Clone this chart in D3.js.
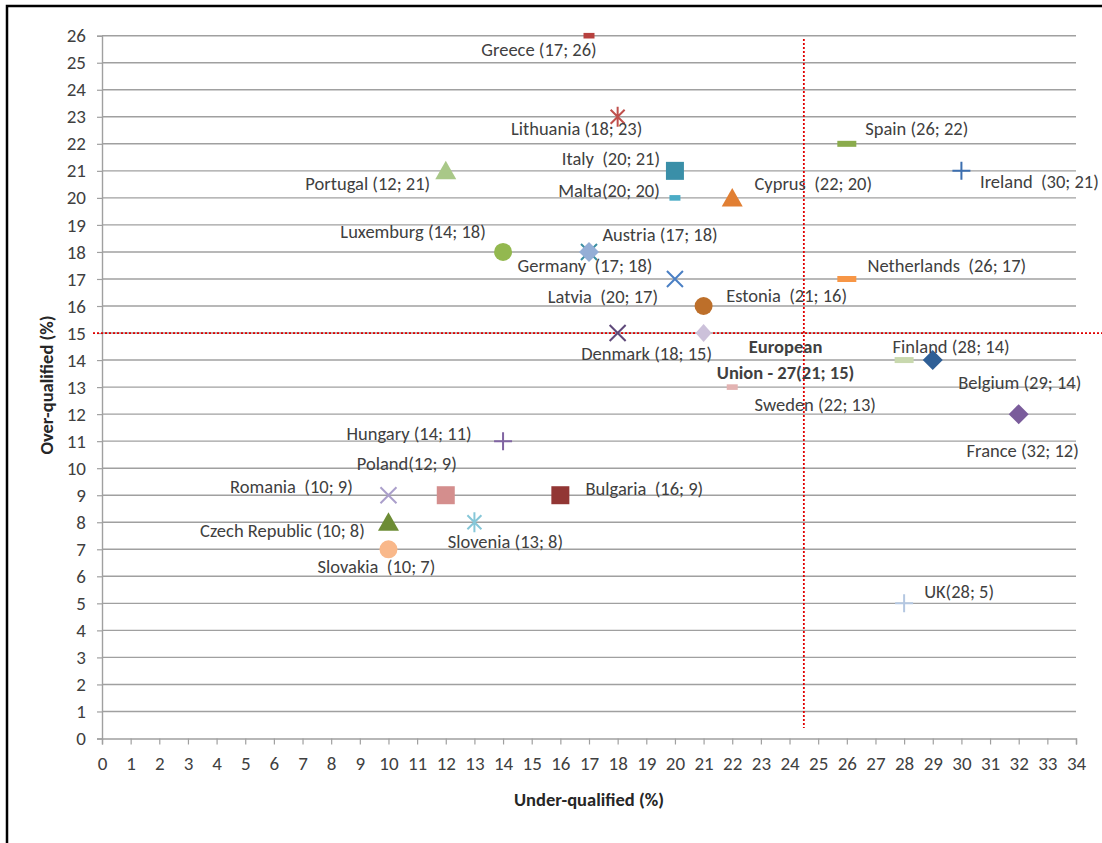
<!DOCTYPE html>
<html>
<head>
<meta charset="utf-8">
<script src="https://cdn.jsdelivr.net/npm/d3@7"></script>
<style>
  body { margin: 0; background: #fff; }
  svg text { font-family: Carlito, "Liberation Sans Narrow", "Liberation Sans", sans-serif; fill: #404040; white-space: pre; }
  .axis-title { font-weight: bold; fill: #262626; }
</style>
</head>
<body>
<svg id="chart" width="1102" height="843"></svg>
<script>
/*
     GLOBAL LAYOUT CONSTANTS
*/
var width = 1102;
var height = 843;
var plot = {left: 102, right: 1076, top: 35.7, bottom: 738.5};
var fontSize = "18.5px";

/*
     DATA (under-qualified %, over-qualified %)
*/
var countries = ["Greece", "Lithuania", "Italy", "Malta", "Portugal", "Cyprus", "Spain", "Ireland",
  "Luxemburg", "Germany", "Austria", "Latvia", "Netherlands", "Estonia", "EU27", "Denmark",
  "Finland", "Belgium", "Sweden", "France", "Hungary", "Poland", "Romania", "Bulgaria",
  "Czech Republic", "Slovenia", "Slovakia", "UK"];
var underQualified = [17, 18, 20, 20, 12, 22, 26, 30, 14, 17, 17, 20, 26, 21, 21, 18, 28, 29, 22, 32, 14, 12, 10, 16, 10, 13, 10, 28];
var overQualified  = [26, 23, 21, 20, 21, 20, 22, 21, 18, 18, 18, 17, 17, 16, 15, 15, 14, 14, 13, 12, 11, 9, 9, 9, 8, 8, 7, 5];
var labels = ["Greece (17; 26)", "Lithuania (18; 23)", "Italy  (20; 21)", "Malta(20; 20)", "Portugal (12; 21)",
  "Cyprus  (22; 20)", "Spain (26; 22)", "Ireland  (30; 21)", "Luxemburg (14; 18)", "Germany  (17; 18)",
  "Austria (17; 18)", "Latvia  (20; 17)", "Netherlands  (26; 17)", "Estonia  (21; 16)",
  "European|Union - 27(21; 15)", "Denmark (18; 15)", "Finland (28; 14)", "Belgium (29; 14)",
  "Sweden (22; 13)", "France (32; 12)", "Hungary (14; 11)", "Poland(12; 9)", "Romania  (10; 9)",
  "Bulgaria  (16; 9)", "Czech Republic (10; 8)", "Slovenia (13; 8)", "Slovakia  (10; 7)", "UK(28; 5)"];

var xTicks = d3.range(0, 35);
var yTicks = d3.range(0, 27);
var euAverage = [24.5, 15]; // reference lines

/*
     STYLE / LAYOUT PER POINT (kept apart from the data)
*/
var shapes = ["barS", "star", "square", "barS", "triangle", "triangle", "bar", "plus",
  "circle", "x", "diamond", "x", "bar", "circle", "diamondS", "x",
  "bar", "diamond", "barS", "diamond", "plus", "square", "x", "square",
  "triangle", "star", "circle", "plus"];
var colors = ["#b7413e", "#c0504d", "#3a8fa8", "#4bacc6", "#a9c888", "#e17f33", "#8aab4c", "#3c6fb0",
  "#93b84f", "#3b8fa3", "#94aed6", "#4a7fc4", "#f79646", "#bd6f2a", "#ccc1da", "#5f497a",
  "#c8d8ae", "#2f5f96", "#e3b3b2", "#7a5c9b", "#8064a2", "#d48e8d", "#ab9fcb", "#923634",
  "#6d8c35", "#86c7d8", "#f9b88a", "#b4c7e1"];
// label centre offsets from marker, pixels
var labelDx = [-50, -41, -64, -66, -78, 81, 70, 78, -90, -4, 71, -72, 100, 83, 82, 29, 47, 87, 83, 4, -94, -39, -97, 84, -106, 31, -12, 55];
var labelDy = [13, 11, -13, -8, 12, -15, -16, 10, -21, 13, -18, 17, -14, -11, 13, 20, -14, 22, 17, 36, -8, -32, -9, -7, 8, 19, 17, -12];

/*
     SCALES
*/
var xScale = d3.scaleLinear().domain([0, 34]).range([plot.left, plot.right]);
var yScale = d3.scaleLinear().domain([0, 26]).range([plot.bottom, plot.top]);

var svg = d3.select("#chart");

// frame (cropped: only left and top edges visible)
svg.append("path")
  .attr("d", "M7,843 V6 H1102")
  .attr("fill", "none")
  .attr("stroke", "#000")
  .attr("stroke-width", 2.5);

// gridlines
svg.append("g").selectAll("line")
  .data(yTicks.filter(function(t) { return t > 0; }))
  .enter().append("line")
  .attr("x1", plot.left).attr("x2", plot.right)
  .attr("y1", function(d) { return yScale(d); })
  .attr("y2", function(d) { return yScale(d); })
  .attr("stroke", "#a0a0a0")
  .attr("stroke-width", 1.4);

// axes
var xAxis = svg.append("g")
  .attr("transform", "translate(0," + plot.bottom + ")")
  .call(d3.axisBottom(xScale).tickValues(xTicks).tickSize(6).tickPadding(12).tickFormat(d3.format("d")));
var yAxis = svg.append("g")
  .attr("transform", "translate(" + plot.left + ",0)")
  .call(d3.axisLeft(yScale).tickValues(yTicks).tickSize(5).tickPadding(11).tickFormat(d3.format("d")));

[xAxis, yAxis].forEach(function(ax) {
  ax.select(".domain").attr("stroke", "#a0a0a0").attr("stroke-width", 1.4);
  ax.selectAll(".tick line").attr("stroke", "#a0a0a0").attr("stroke-width", 1.2);
  ax.selectAll(".tick text").style("font-size", "19px").attr("fill", "#404040");
});

// axis titles
svg.append("text")
  .attr("class", "axis-title")
  .attr("x", 589).attr("y", 806)
  .attr("text-anchor", "middle")
  .style("font-size", "18.5px")
  .text("Under-qualified (%)");
svg.append("text")
  .attr("class", "axis-title")
  .attr("transform", "translate(53,385) rotate(-90)")
  .attr("text-anchor", "middle")
  .style("font-size", "18.5px")
  .text("Over-qualified (%)");

// EU-27 reference lines (dotted red)
svg.append("line")
  .attr("x1", xScale(euAverage[0])).attr("x2", xScale(euAverage[0]))
  .attr("y1", yScale(25.88)).attr("y2", yScale(0.39))
  .attr("stroke", "#e00000").attr("stroke-width", 1.8).attr("stroke-dasharray", "2,2");
svg.append("line")
  .attr("x1", 93).attr("x2", width)
  .attr("y1", yScale(euAverage[1])).attr("y2", yScale(euAverage[1]))
  .attr("stroke", "#e00000").attr("stroke-width", 1.8).attr("stroke-dasharray", "2,2");

/*
     MARKERS
*/
function markerPath(type) {
  switch (type) {
    case "square":   return "M-9,-9H9V9H-9Z";
    case "triangle": return "M0,-10L10.5,8.5H-10.5Z";
    case "diamond":  return "M0,-10L10,0L0,10L-10,0Z";
    case "diamondS": return "M0,-9L8,0L0,9L-8,0Z";
    case "circle":   return d3.symbol().type(d3.symbolCircle).size(Math.PI * 81)();
    case "bar":      return "M-9.5,-3H9.5V3H-9.5Z";
    case "barS":     return "M-5.5,-2.8H5.5V2.8H-5.5Z";
    case "plus":     return "M-9,0H9M0,-9V9";
    case "x":        return "M-8,-8L8,8M-8,8L8,-8";
    case "star":     return "M-7,-7L7,7M-7,7L7,-7M0,-10V10";
  }
}
var stroked = {plus: 1, x: 1, star: 1};

var points = countries.map(function(c, i) {
  return {name: c, x: underQualified[i], y: overQualified[i], label: labels[i],
          shape: shapes[i], color: colors[i], dx: labelDx[i], dy: labelDy[i]};
});

svg.append("g").selectAll("path")
  .data(points)
  .enter().append("path")
  .attr("transform", function(d) { return "translate(" + xScale(d.x) + "," + yScale(d.y) + ")"; })
  .attr("d", function(d) { return markerPath(d.shape); })
  .attr("fill", function(d) { return stroked[d.shape] ? "none" : d.color; })
  .attr("stroke", function(d) { return stroked[d.shape] ? d.color : "none"; })
  .attr("stroke-width", 2);

/*
     DATA LABELS
*/
var lab = svg.append("g").selectAll("text")
  .data(points)
  .enter().append("text")
  .attr("x", function(d) { return xScale(d.x) + d.dx; })
  .attr("y", function(d) { return yScale(d.y) + d.dy; })
  .attr("text-anchor", "middle")
  .attr("dominant-baseline", "central")
  .style("font-size", fontSize)
  .style("font-weight", function(d) { return d.name == "EU27" ? "bold" : "normal"; })
  .attr("fill", function(d) { return d.name == "EU27" ? "#111" : "#404040"; });

lab.each(function(d) {
  var parts = d.label.split("|");
  var t = d3.select(this);
  parts.forEach(function(p, k) {
    t.append("tspan")
      .attr("x", xScale(d.x) + d.dx)
      .attr("dy", k == 0 ? 0 : 26)
      .text(p);
  });
});
</script>
</body>
</html>
